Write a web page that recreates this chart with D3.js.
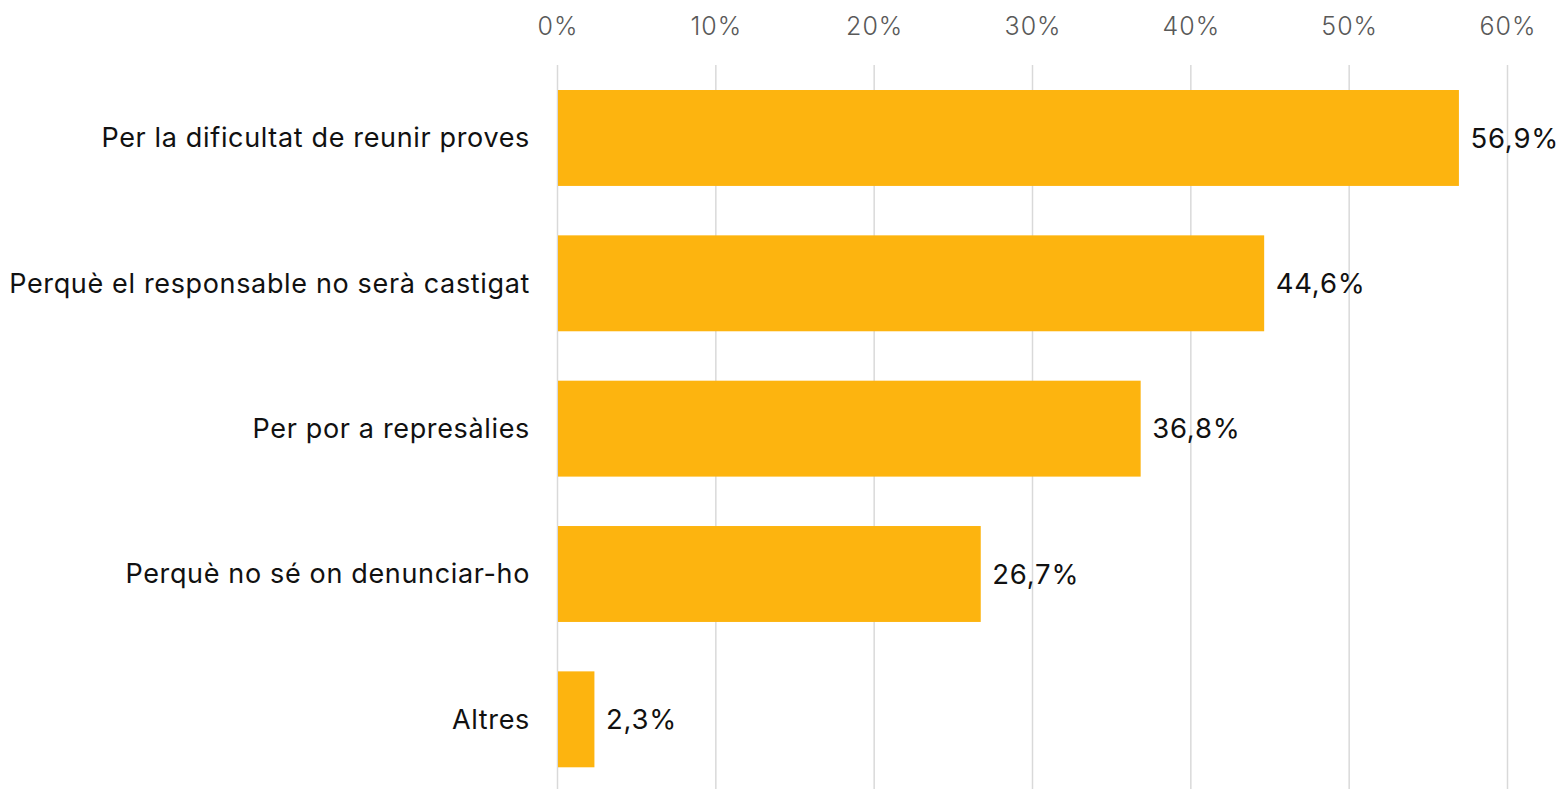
<!DOCTYPE html>
<html><head><meta charset="utf-8">
<script src="https://cdn.jsdelivr.net/npm/d3@7"></script>
<style>body{margin:0;background:#fff}svg{display:block}</style>
</head><body>
<script>
const categories = ["Per la dificultat de reunir proves","Perquè el responsable no serà castigat","Per por a represàlies","Perquè no sé on denunciar-ho","Altres"];
const values = [56.9, 44.6, 36.8, 26.7, 2.3];
const valueLabels = ["56,9%","44,6%","36,8%","26,7%","2,3%"];
const tickValues = [0,10,20,30,40,50,60];

const W = 1560, H = 789;
const svg = d3.select("body").append("svg").attr("width", W).attr("height", H);
const x = d3.scaleLinear().domain([0,60]).range([557.5, 1507.5]);
const y = d3.scaleBand().domain(categories).range([65.3, 792]).paddingInner(0.34).paddingOuter(0.17);
const font = "Inter, 'Open Sans', sans-serif";

svg.append("g").selectAll("line").data(tickValues).join("line")
  .attr("x1", d => x(d)).attr("x2", d => x(d))
  .attr("y1", 65).attr("y2", H)
  .attr("stroke", "#d9d9d9").attr("stroke-width", 1.5);

const axis = d3.axisTop(x).tickValues(tickValues).tickFormat(d => d + "%").tickSize(0).tickPadding(0);
const ag = svg.append("g").attr("transform", "translate(0,35)").call(axis);
ag.select(".domain").remove();
ag.selectAll("text").attr("font-family", font).attr("font-size", 25).attr("font-weight", 300)
  .attr("letter-spacing", 1).attr("fill", "#595959").attr("dy", 0);

svg.append("g").selectAll("rect").data(values).join("rect")
  .attr("x", x(0) + 0.5).attr("y", (d,i) => y(categories[i]))
  .attr("width", d => x(d) - x(0)).attr("height", y.bandwidth())
  .attr("fill", "#FDB40F");

svg.append("g").selectAll("text").data(categories).join("text")
  .attr("x", 530).attr("y", d => y(d) + y.bandwidth()/2)
  .attr("dy", "0.35em").attr("text-anchor", "end")
  .attr("font-family", font).attr("font-size", 27).attr("letter-spacing", 0.65).attr("fill", "#111")
  .text(d => d);

svg.append("g").selectAll("text").data(values).join("text")
  .attr("x", d => x(d) + 12).attr("y", (d,i) => y(categories[i]) + y.bandwidth()/2)
  .attr("dy", "0.35em")
  .attr("font-family", font).attr("font-size", 27.5).attr("letter-spacing", 0.8).attr("fill", "#111")
  .text((d,i) => valueLabels[i]);
</script>
</body></html>
